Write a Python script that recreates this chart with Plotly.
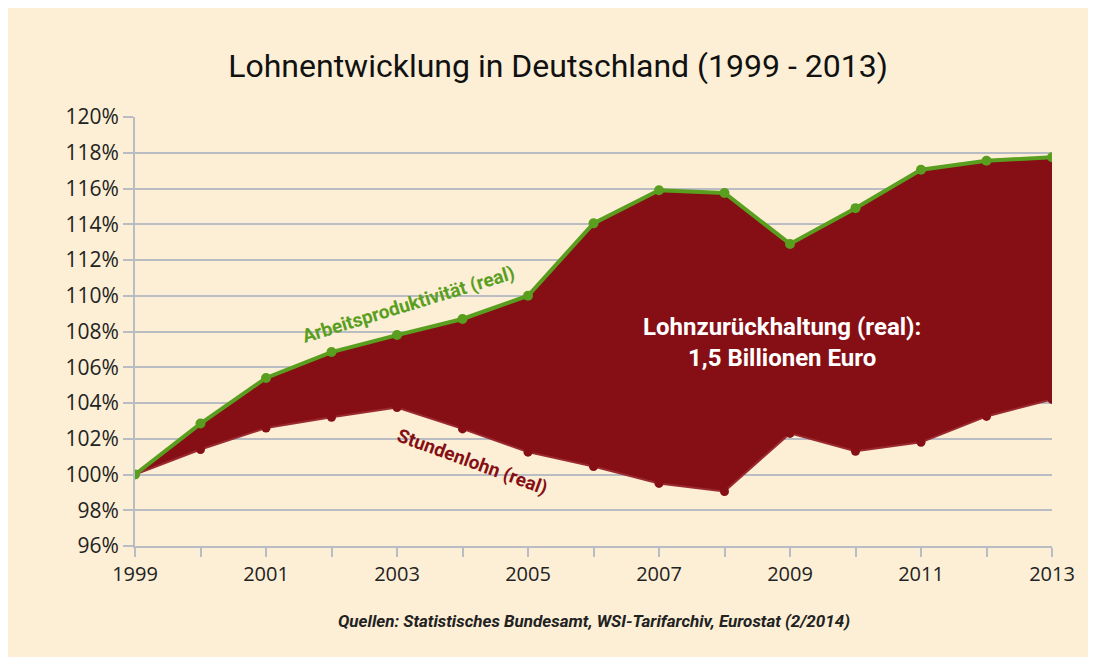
import plotly.graph_objects as go

years = list(range(1999, 2014))
produktivitaet = [100.0, 102.85, 105.4, 106.85, 107.8, 108.7, 110.0, 114.05,
                  115.9, 115.75, 112.9, 114.9, 117.05, 117.55, 117.75]
stundenlohn = [100.0, 101.4, 102.6, 103.2, 103.75, 102.55, 101.25, 100.45,
               99.5, 99.05, 102.3, 101.3, 101.8, 103.25, 104.2]

y_ticks = [96, 98, 100, 102, 104, 106, 108, 110, 112, 114, 116, 118, 120]
y_tick_labels = [f"{v}%" for v in y_ticks]
x_tick_labels = [str(y) if (y - 1999) % 2 == 0 else "" for y in years]

title_text = "Lohnentwicklung in Deutschland (1999 - 2013)"
label_prod = "Arbeitsproduktivität (real)"
label_lohn = "Stundenlohn (real)"
label_gap = "Lohnzurückhaltung (real):<br>1,5 Billionen Euro"
source_text = "Quellen: Statistisches Bundesamt, WSI-Tarifarchiv, Eurostat (2/2014)"

BG = "#FCEFD5"
RED = "#860F15"
GREEN = "#5A9E1F"
GRID = "#B9BCC2"
COND = "Roboto, Lato, sans-serif"
TICKF = "Open Sans, sans-serif"

fig = go.Figure()
fig.add_trace(go.Scatter(
    x=years, y=stundenlohn, mode="lines+markers",
    line=dict(color="#9A2A2F", width=2),
    marker=dict(color=RED, size=9),
    showlegend=False, hoverinfo="skip"))
fig.add_trace(go.Scatter(
    x=years, y=produktivitaet, mode="lines+markers",
    line=dict(color=GREEN, width=4),
    marker=dict(color=GREEN, size=10),
    fill="tonexty", fillcolor=RED,
    showlegend=False, hoverinfo="skip"))

fig.update_layout(
    width=1096, height=657,
    margin=dict(l=127, r=52, t=109, b=119),
    paper_bgcolor=BG, plot_bgcolor=BG,
    title=dict(text=title_text, x=550/1096, xanchor="center", xref="container",
               y=1-58/657, yanchor="middle", yref="container",
               font=dict(family=COND, size=32, color="#111111")),
    xaxis=dict(range=[1999, 2013], tickvals=years, ticktext=x_tick_labels,
               showgrid=False, zeroline=False,
               showline=True, linecolor=GRID, linewidth=2,
               ticks="outside", ticklen=9, tickwidth=2, tickcolor=GRID,
               tickfont=dict(family=TICKF, size=20, color="#222222")),
    yaxis=dict(range=[96, 120], tickvals=y_ticks, ticktext=y_tick_labels,
               showgrid=True, gridcolor=GRID, gridwidth=2, zeroline=False,
               showline=True, linecolor=GRID, linewidth=2,
               ticks="outside", ticklen=10, tickwidth=2, tickcolor=GRID,
               tickfont=dict(family=TICKF, size=21, color="#222222")),
    annotations=[
        dict(text=f"<b>{label_prod}</b>", x=2003.17, y=109.5, xref="x", yref="y",
             showarrow=False, textangle=-17,
             font=dict(family=COND, size=19, color=GREEN)),
        dict(text=f"<b>{label_lohn}</b>", x=2004.14, y=100.7, xref="x", yref="y",
             showarrow=False, textangle=20,
             font=dict(family=COND, size=19, color=RED)),
        dict(text=f"<b>{label_gap}</b>", x=2008.88, y=107.4, xref="x", yref="y",
             showarrow=False, align="center",
             font=dict(family=COND, size=24, color="white")),
        dict(text=f"<b><i>{source_text}</i></b>", x=0.5005, y=(538-625)/429,
             xref="paper", yref="paper", showarrow=False,
             font=dict(family=COND, size=17, color="#222222")),
    ],
)

fig.write_html("out.html")
